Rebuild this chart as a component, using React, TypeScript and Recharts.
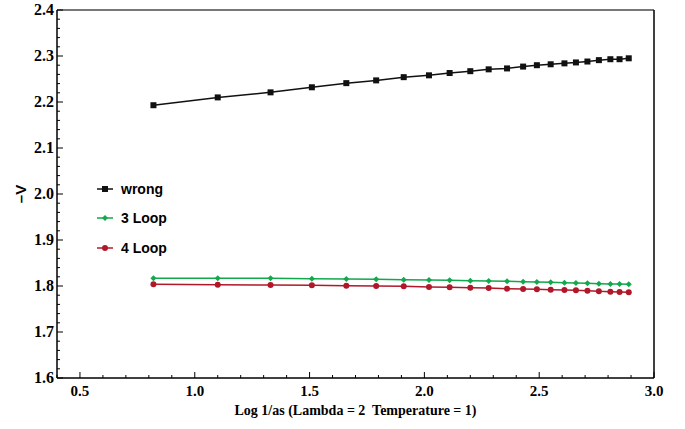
import { LineChart, Line, XAxis, YAxis, ReferenceLine } from 'recharts';

const xValues = [0.82, 1.1, 1.33, 1.51, 1.66, 1.79, 1.91, 2.02, 2.11, 2.2, 2.28, 2.36, 2.43, 2.49, 2.55, 2.61, 2.66, 2.71, 2.76, 2.81, 2.85, 2.89];

const wrongValues = [2.193, 2.21, 2.221, 2.232, 2.241, 2.247, 2.254, 2.258, 2.263, 2.267, 2.271, 2.273, 2.277, 2.28, 2.282, 2.284, 2.286, 2.288, 2.291, 2.293, 2.293, 2.295];

const loop3Values = [1.8167, 1.8167, 1.8167, 1.816, 1.8152, 1.8145, 1.8138, 1.813, 1.8123, 1.8116, 1.8109, 1.8101, 1.8094, 1.8087, 1.808, 1.8072, 1.8065, 1.8058, 1.805, 1.8043, 1.8043, 1.8036];

const loop4Values = [1.8036, 1.8029, 1.8022, 1.8014, 1.8007, 1.8, 1.7993, 1.7978, 1.7971, 1.7964, 1.7957, 1.7942, 1.7935, 1.7928, 1.792, 1.7913, 1.7906, 1.7899, 1.7884, 1.7877, 1.787, 1.7862];

const xMajorTicks = [0.5, 1.0, 1.5, 2.0, 2.5, 3.0];
const yMajorTicks = [1.6, 1.7, 1.8, 1.9, 2.0, 2.1, 2.2, 2.3, 2.4];

const xTitle = 'Log 1/as (Lambda = 2  Temperature = 1)';
const yTitle = '–V';

const series = [
  { key: 'wrong', name: 'wrong', color: '#111111', marker: 'square' },
  { key: 'loop3', name: '3 Loop', color: '#12a84c', marker: 'diamond' },
  { key: 'loop4', name: '4 Loop', color: '#b0182a', marker: 'circle' },
];

const data = xValues.map((x, i) => ({
  x,
  wrong: wrongValues[i],
  loop3: loop3Values[i],
  loop4: loop4Values[i],
}));

// minor ticks between majors
const subdivide = (majors: number[], parts: number) => {
  const out: number[] = [];
  for (let i = 0; i < majors.length - 1; i++) {
    const step = (majors[i + 1] - majors[i]) / parts;
    for (let k = 0; k < parts; k++) out.push(+(majors[i] + step * k).toFixed(4));
  }
  out.push(majors[majors.length - 1]);
  return out;
};

const xTicks = [0.4, ...subdivide(xMajorTicks, 5)];
const yTicks = subdivide(yMajorTicks, 5);

const isMajor = (v: number, list: number[]) => list.some((m) => Math.abs(m - v) < 1e-6);

const serif = '"Liberation Serif", "Times New Roman", serif';
const sans = '"Liberation Sans", Arial, sans-serif';
const serifText = { fontFamily: serif, fontWeight: 'bold' as const };

const XTick = (props: any) => {
  const { x, y, payload } = props;
  const major = isMajor(payload.value, xMajorTicks);
  return (
    <g>
      <line x1={x} y1={y} x2={x} y2={y - (major ? 6 : 3)} stroke="#000" strokeWidth={1} />
      {major && (
        <text x={x} y={y + 18} textAnchor="middle" style={{ ...serifText, fontSize: 15 }} fill="#000">
          {payload.value.toFixed(1)}
        </text>
      )}
    </g>
  );
};

const YTick = (props: any) => {
  const { x, y, payload } = props;
  const major = isMajor(payload.value, yMajorTicks);
  return (
    <g>
      <line x1={x} y1={y} x2={x + (major ? 6 : 3)} y2={y} stroke="#000" strokeWidth={1} />
      {major && (
        <text x={x - 3} y={y + 5} textAnchor="end" style={{ ...serifText, fontSize: 16 }} fill="#000">
          {payload.value.toFixed(1)}
        </text>
      )}
    </g>
  );
};

const Marker = ({ cx, cy, type, color }: { cx: number; cy: number; type: string; color: string }) => {
  if (type === 'square') return <rect x={cx - 3} y={cy - 3} width={6} height={6} fill={color} />;
  if (type === 'diamond') return <polygon points={`${cx},${cy - 3} ${cx + 3},${cy} ${cx},${cy + 3} ${cx - 3},${cy}`} fill={color} />;
  return <circle cx={cx} cy={cy} r={3} fill={color} />;
};

const ChartLegend = () => (
  <div style={{ position: 'absolute', left: 96, top: 174, fontFamily: sans, fontWeight: 'bold', fontSize: 14 }}>
    {series.map((s) => (
      <div key={s.key} style={{ display: 'flex', alignItems: 'center', height: 29.5 }}>
        <svg width={18} height={10} style={{ marginRight: 7 }}>
          <line x1={1} y1={5} x2={17} y2={5} stroke={s.color} strokeWidth={1.5} />
          <Marker cx={9} cy={5} type={s.marker} color={s.color} />
        </svg>
        <span>{s.name}</span>
      </div>
    ))}
  </div>
);

export default function App() {
  return (
    <div style={{ position: 'absolute', left: 0, top: 0, width: 685, height: 429, background: '#fff' }}>
      <LineChart width={685} height={429} data={data} margin={{ top: 10, right: 31, bottom: 0, left: 0 }}>
        <XAxis
          dataKey="x"
          type="number"
          domain={[0.4, 3.0]}
          ticks={xTicks}
          interval={0}
          tick={<XTick />}
          tickLine={false}
          tickSize={0}
          tickMargin={0}
          height={51}
          axisLine={{ stroke: '#000', strokeWidth: 1.5 }}
          label={{
            content: () => (
              <text
                x={355.5}
                y={415}
                textAnchor="middle"
                fill="#000"
                style={{ ...serifText, fontSize: 14, whiteSpace: 'pre' }}
              >
                {xTitle}
              </text>
            ),
          }}
        />
        <YAxis
          type="number"
          domain={[1.6, 2.4]}
          ticks={yTicks}
          interval={0}
          tick={<YTick />}
          tickLine={false}
          tickSize={0}
          tickMargin={0}
          width={57}
          axisLine={{ stroke: '#000', strokeWidth: 1.5 }}
          label={{
            content: () => (
              <text
                x={26}
                y={194}
                transform="rotate(-90 26 194)"
                textAnchor="middle"
                fill="#000"
                style={{ fontFamily: sans, fontWeight: 'bold', fontSize: 15 }}
              >
                {yTitle}
              </text>
            ),
          }}
        />
        <ReferenceLine y={2.4} stroke="#777" strokeWidth={2} />
        <ReferenceLine x={3.0} stroke="#000" strokeWidth={1.5} />
        {series.map((s) => (
          <Line
            key={s.key}
            dataKey={s.key}
            name={s.name}
            type="linear"
            stroke={s.color}
            strokeWidth={1.5}
            isAnimationActive={false}
            dot={(p: any) => <Marker key={`${s.key}-${p.index}`} cx={p.cx} cy={p.cy} type={s.marker} color={s.color} />}
          />
        ))}
      </LineChart>
      <ChartLegend />
    </div>
  );
}
